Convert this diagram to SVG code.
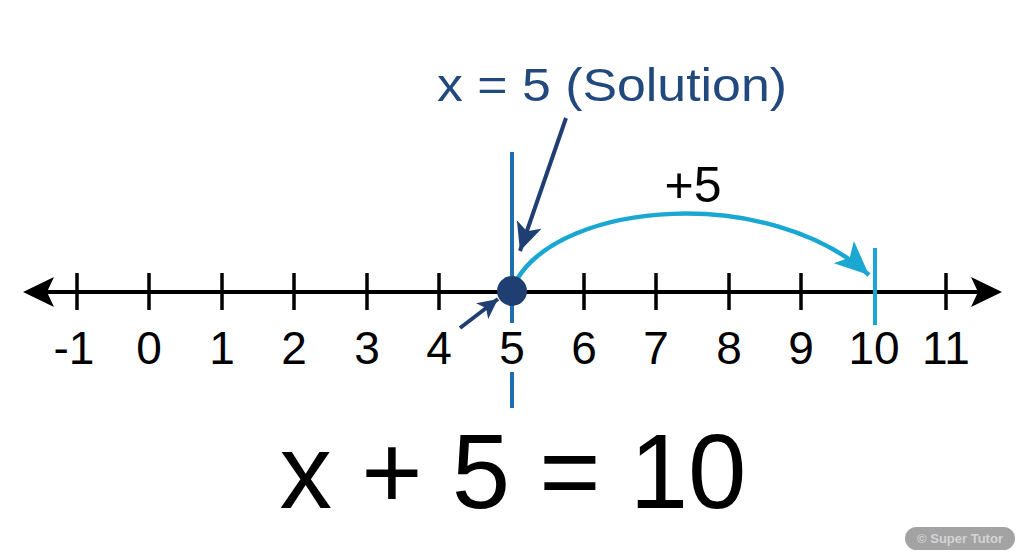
<svg xmlns="http://www.w3.org/2000/svg" width="1024" height="559" viewBox="0 0 1024 559">
  <style>
    .num { font-family: "Liberation Sans", Arial, sans-serif; font-size: 46px; fill: #000; text-anchor: middle; }
    .tick { stroke: #000; stroke-width: 3.5; }
  </style>
  <defs>
    <marker id="navyHead" markerUnits="userSpaceOnUse" markerWidth="32" markerHeight="28" refX="28" refY="13" orient="auto">
      <path d="M0,0 L28,13 L0,26 L7,13 Z" fill="#1f3f73"/>
    </marker>
    <marker id="navyHeadSmall" markerUnits="userSpaceOnUse" markerWidth="24" markerHeight="22" refX="20" refY="10" orient="auto">
      <path d="M0,0 L20,10 L0,20 L5,10 Z" fill="#1f3f73"/>
    </marker>
    <marker id="cyanHead" markerUnits="userSpaceOnUse" markerWidth="38" markerHeight="32" refX="34" refY="15" orient="auto">
      <path d="M0,0 L34,15 L0,30 L8,15 Z" fill="#1aa7d2"/>
    </marker>
  </defs>
  <rect width="1024" height="559" fill="#ffffff"/>

  <g id="number-line">
    <line x1="40" y1="292" x2="985" y2="292" stroke="#000" stroke-width="4"/>
    <path d="M23,292 L54,277 L47,292 L54,307 Z" fill="#000"/>
    <path d="M1002,292 L971,277 L978,292 L971,307 Z" fill="#000"/>
    <g id="ticks">
      <line class="tick" x1="77" y1="273" x2="77" y2="310"/>
      <line class="tick" x1="149" y1="273" x2="149" y2="310"/>
      <line class="tick" x1="222" y1="273" x2="222" y2="310"/>
      <line class="tick" x1="294" y1="273" x2="294" y2="310"/>
      <line class="tick" x1="367" y1="273" x2="367" y2="310"/>
      <line class="tick" x1="439" y1="273" x2="439" y2="310"/>
      <line class="tick" x1="584" y1="273" x2="584" y2="310"/>
      <line class="tick" x1="656" y1="273" x2="656" y2="310"/>
      <line class="tick" x1="729" y1="273" x2="729" y2="310"/>
      <line class="tick" x1="801" y1="273" x2="801" y2="310"/>
      <line class="tick" x1="946" y1="273" x2="946" y2="310"/>
    </g>
    <g id="labels">
      <text class="num" x="74" y="364">-1</text>
      <text class="num" x="149" y="364">0</text>
      <text class="num" x="222" y="364">1</text>
      <text class="num" x="294" y="364">2</text>
      <text class="num" x="367" y="364">3</text>
      <text class="num" x="439" y="364">4</text>
      <text class="num" x="512" y="364">5</text>
      <text class="num" x="584" y="364">6</text>
      <text class="num" x="656" y="364">7</text>
      <text class="num" x="729" y="364">8</text>
      <text class="num" x="801" y="364">9</text>
      <text class="num" x="874" y="364">10</text>
      <text class="num" x="946" y="364">11</text>
    </g>
  </g>

  <g id="solution-marker">
    <line x1="512" y1="152" x2="512" y2="323" stroke="#1f6fb0" stroke-width="4"/>
    <line x1="512" y1="372" x2="512" y2="408" stroke="#1f6fb0" stroke-width="4"/>
  </g>

  <g id="target-marker">
    <line x1="875" y1="248" x2="875" y2="325" stroke="#1aa7d2" stroke-width="4"/>
  </g>

  <g id="connectors">
    <path d="M516,281 C562,200 770,185 869,275" fill="none" stroke="#1aa7d2" stroke-width="4.5" marker-end="url(#cyanHead)"/>
    <line x1="566" y1="118" x2="520" y2="251" stroke="#1f3f73" stroke-width="4" marker-end="url(#navyHead)"/>
    <line x1="460" y1="328" x2="498" y2="299" stroke="#1f3f73" stroke-width="4" marker-end="url(#navyHeadSmall)"/>
  </g>

  <g id="point-5">
    <circle cx="512" cy="291" r="15" fill="#1f3f73"/>
  </g>

  <g id="title">
    <text x="437" y="101" textLength="350" lengthAdjust="spacingAndGlyphs" font-family="'Liberation Sans', Arial, sans-serif" font-size="47" fill="#22497e">x = 5 (Solution)</text>
  </g>

  <g id="plus5">
    <text x="693" y="202" font-family="'Liberation Sans', Arial, sans-serif" font-size="50" fill="#000" text-anchor="middle">+5</text>
  </g>

  <g id="equation">
    <text x="513" y="508" font-family="'Liberation Sans', Arial, sans-serif" font-size="105" fill="#000" text-anchor="middle">x + 5 = 10</text>
  </g>

  <g id="watermark">
    <rect x="905" y="527" width="110" height="23" rx="11.5" fill="#a3a3a3"/>
    <text x="960" y="543" font-family="'Liberation Sans', Arial, sans-serif" font-size="13" font-weight="bold" fill="#d4d4d4" text-anchor="middle">© Super Tutor</text>
  </g>
</svg>
